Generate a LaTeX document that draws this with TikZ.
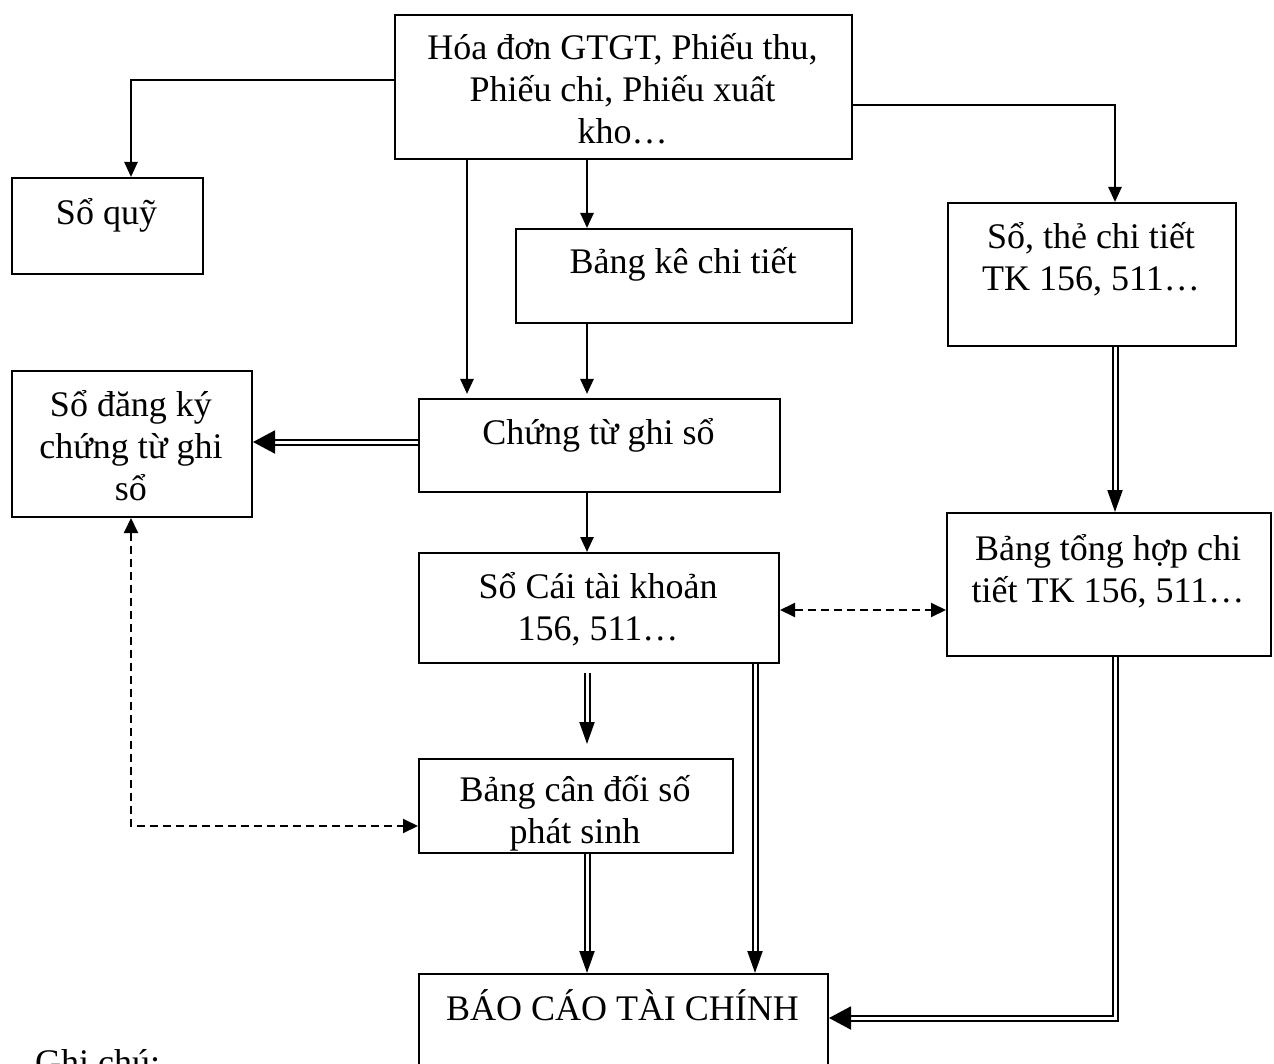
\documentclass[tikz,border=0pt]{standalone}
\usepackage{fontspec}
\setmainfont{Liberation Serif}
\usetikzlibrary{arrows.meta}

\begin{document}
\begin{tikzpicture}[x=1pt, y=-1pt,
  box/.style={draw, line width=2pt, inner sep=0pt, anchor=north west},
  lbl/.style={anchor=base, inner sep=0pt, font=\fontsize{36}{42}\selectfont},
  arr/.style={line width=2.5pt, -{Triangle[length=15pt,width=13pt]}},
  dsh/.style={line width=2pt, dash pattern=on 8pt off 5pt,
    {Triangle[length=15pt,width=14pt]}-{Triangle[length=15pt,width=14pt]}},
  dblv/.style={line width=2pt, double distance=3pt, double=white,
    -{Triangle[length=22pt,width=15pt]}},
  dblh/.style={line width=2pt, double distance=3pt, double=white,
    -{Triangle[length=22pt,width=23pt]}}]

\clip (0,0) rectangle (1274,1064);
\fill[white] (0,0) rectangle (1274,1064);

% boxes
\node[box, minimum width=457pt, minimum height=144pt] (src) at (394,14) {};
\node[box, minimum width=191pt, minimum height=96pt]  (quy) at (11,177) {};
\node[box, minimum width=336pt, minimum height=94pt]  (bk)  at (515,228) {};
\node[box, minimum width=288pt, minimum height=143pt] (st)  at (947,202) {};
\node[box, minimum width=240pt, minimum height=146pt] (dk)  at (11,370) {};
\node[box, minimum width=361pt, minimum height=93pt]  (ct)  at (418,398) {};
\node[box, minimum width=360pt, minimum height=110pt] (sc)  at (418,552) {};
\node[box, minimum width=324pt, minimum height=143pt] (th)  at (946,512) {};
\node[box, minimum width=314pt, minimum height=94pt]  (cd)  at (418,758) {};
\node[box, minimum width=409pt, minimum height=130pt] (bc)  at (418,973) {};

% box texts
\node[lbl] (srcT) at (622.5,60) {\parbox[t]{450pt}{\centering Hóa đơn GTGT, Phiếu thu,\\ Phiếu chi, Phiếu xuất\\ kho…}};
\node[lbl] (quyT) at (106.5,225) {Sổ quỹ};
\node[lbl] (bkT)  at (683,274) {Bảng kê chi tiết};
\node[lbl] (stT)  at (1091,249) {\parbox[t]{286pt}{\centering Sổ, thẻ chi tiết\\ TK 156, 511…}};
\node[lbl] (dkT)  at (131,416) {\parbox[t]{238pt}{\centering Sổ đăng ký\\ chứng từ ghi\\ sổ}};
\node[lbl] (ctT)  at (598.5,444) {Chứng từ ghi sổ};
\node[lbl] (scT)  at (598,598) {\parbox[t]{358pt}{\centering Sổ Cái tài khoản\\ 156, 511…}};
\node[lbl] (thT)  at (1108,560) {\parbox[t]{322pt}{\centering Bảng tổng hợp chi\\ tiết TK 156, 511…}};
\node[lbl] (cdT)  at (575,801) {\parbox[t]{312pt}{\centering Bảng cân đối số\\ phát sinh}};
\node[lbl] (bcT)  at (622.5,1020) {BÁO CÁO TÀI CHÍNH};
\node[lbl, anchor=base west] (note) at (35,1074) {Ghi chú:};

% helper points for bends and columns
\coordinate (qbend) at (131,80);
\coordinate (sbend) at (1115,105);
\coordinate (xL) at (467,0);
\coordinate (xM) at (587,0);
\coordinate (xR) at (755,0);
\coordinate (xT) at (1115,0);
\coordinate (yA) at (0,442);
\coordinate (yB) at (0,610);
\coordinate (hstart) at (587,673);
\coordinate (corner) at (1115,1018);
\coordinate (dbend) at (131,826);

% single arrows
\draw[arr] (src.west |- qbend) -- (qbend) -- (quy.north -| qbend);
\draw[arr] (src.east |- sbend) -- (sbend) -- (st.north -| sbend);
\draw[arr, shorten >=4pt] (src.south -| xL) -- (ct.north -| xL);
\draw[arr] (src.south -| xM) -- (bk.north -| xM);
\draw[arr, shorten >=4pt] (bk.south -| xM) -- (ct.north -| xM);
\draw[arr] (ct.south -| xM) -- (sc.north -| xM);

% double arrows
\draw[dblh] (ct.west |- yA) -- (dk.east |- yA);
\draw[dblv, shorten >=14pt] (hstart) -- (cd.north -| hstart);
\draw[dblv] (sc.south -| xR) -- (bc.north -| xR);
\draw[dblv] (cd.south -| xM) -- (bc.north -| xM);
\draw[dblv] (st.south -| xT) -- (th.north -| xT);
\draw[dblh] (th.south -| xT) -- (corner) -- (bc.east |- corner);

% dashed links
\draw[dsh] (sc.east |- yB) -- (th.west |- yB);
\draw[dsh] (dk.south -| dbend) -- (dbend) -- (cd.west |- dbend);

\end{tikzpicture}
\end{document}
